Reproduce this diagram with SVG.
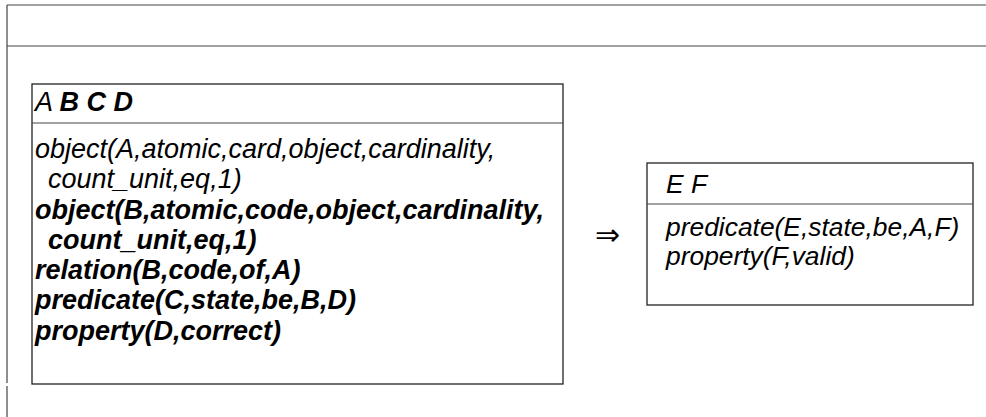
<svg xmlns="http://www.w3.org/2000/svg" width="986" height="417" viewBox="0 0 986 417">
<style>
.frame{stroke:#444;stroke-width:1.2;fill:none}
.box{stroke:#222;stroke-width:1.3;fill:#fff}
.div{stroke:#444;stroke-width:1.2}
text{font-family:"Liberation Sans",Arial,Helvetica,sans-serif;font-size:27px;font-style:italic;fill:#000}
.r{font-size:26.4px}
.b{font-weight:bold}
.arr{font-family:"DejaVu Sans",sans-serif;font-style:normal;font-size:30px}
</style>
<g id="frame">
<line class="frame" x1="7" y1="5" x2="986" y2="5"/>
<line class="frame" x1="7" y1="46" x2="986" y2="46"/>
<line class="frame" x1="7" y1="5" x2="7" y2="383"/>
<line class="frame" x1="7" y1="386" x2="7" y2="417"/>
</g>
<g id="left-node">
<rect class="box" x="32" y="84" width="531" height="300"/>
<line class="div" x1="32" y1="123" x2="563" y2="123"/>
<text x="35" y="111">A <tspan class="b">B C D</tspan></text>
<text x="35" y="158">object(A,atomic,card,object,cardinality,</text>
<text x="48" y="188">count_unit,eq,1)</text>
<text class="b" x="35" y="219">object(B,atomic,code,object,cardinality,</text>
<text class="b" x="48" y="249">count_unit,eq,1)</text>
<text class="b" x="35" y="279">relation(B,code,of,A)</text>
<text class="b" x="35" y="309">predicate(C,state,be,B,D)</text>
<text class="b" x="35" y="340">property(D,correct)</text>
</g>
<g id="connectors">
<text class="arr" x="595" y="245">⇒</text>
</g>
<g id="right-node">
<rect class="box" x="647" y="163" width="326" height="142"/>
<line class="div" x1="647" y1="204" x2="973" y2="204"/>
<text class="r" x="666" y="193">E F</text>
<text class="r" x="666" y="236">predicate(E,state,be,A,F)</text>
<text class="r" x="666" y="265">property(F,valid)</text>
</g>
</svg>
